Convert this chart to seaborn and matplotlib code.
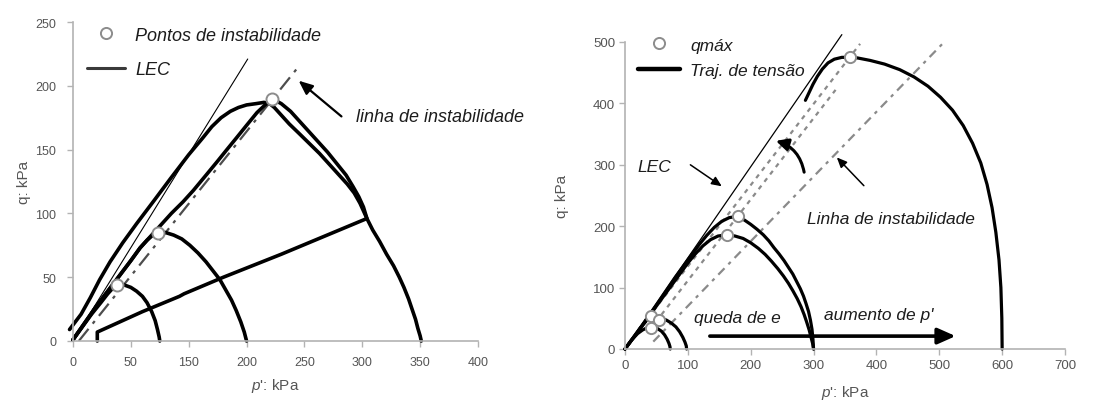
import matplotlib
matplotlib.use("Agg")
import matplotlib.pyplot as plt
import seaborn as sns
from matplotlib.lines import Line2D

# ---------------- left panel: q-p' stress paths (kPa) ----------------
small_a_p = [0, 8, 16, 24, 30, 34, 38, 44, 50, 55, 60, 64, 68, 71, 73, 74.5, 75]
small_a_q = [1, 11, 21, 30, 37, 41, 44, 44, 42, 39, 35, 30, 23, 16, 9, 3, 0]

medium_a_p = [0, 10, 20, 30, 40, 50, 58, 64, 69, 73.5, 80, 87, 94, 101, 108,
              115, 121, 127, 132, 137, 141, 145, 148, 150]
medium_a_q = [1, 14, 27, 39, 51, 63, 73, 79, 83, 85, 85, 83, 80, 75, 69,
              62, 55, 48, 40, 32, 24, 15, 7, 0]

large1_a_p = [0, 10, 20, 30, 40, 50, 58, 64, 75, 85, 95, 104, 115, 125, 133,
              142, 150, 159, 166, 172, 180, 188, 196, 204, 212, 220, 228, 236,
              242, 247, 251, 254, 259, 265, 271, 277, 282, 286, 290, 293, 296,
              298, 300, 301]
large1_a_q = [1, 14, 27, 39, 51, 63, 73, 79, 90, 100, 109, 118, 130, 141, 150,
              160, 169, 179, 185, 190, 186, 180, 172, 164, 156, 148, 139, 130,
              121, 113, 105, 96, 87, 78, 68, 59, 50, 42, 33, 25, 17,
              10, 4, 0]

large2_a_p = [21, 21, 60, 92, 96, 130, 180, 254, 252, 248, 243, 237, 230, 222,
              213, 204, 195, 187, 180, 174, 170, 165, 158, 150, 143, 136, 128,
              120, 112, 100, 84, 70, 55, 43, 32, 23, 15, 7, -3]
large2_a_q = [0, 7, 23, 35, 37, 50, 68, 96, 100, 108, 116, 123, 130, 138,
              147, 155, 163, 170, 177, 183, 186, 187, 186, 185, 183, 180, 175,
              168, 159, 146, 127, 110, 92, 77, 62, 48, 34, 21, 9]

peaks_a_p = [38, 73.5, 172]
peaks_a_q = [44, 85, 190]

lec_a_p = [0, 151]
lec_a_q = [0, 221]

inst_a_p = [5, 194]
inst_a_q = [0, 214]

xticks_a = [0, 50, 100, 150, 200, 250, 300, 350]
xticklabels_a = ["0", "50", "150", "200", "250", "300", "350", "400"]
yticks_a = [0, 50, 100, 150, 200, 250]

# ---------------- right panel ----------------
small1_b_p = [0, 10, 20, 28, 34, 40, 46, 52, 58, 63, 67, 70, 71.5, 72]
small1_b_q = [0, 14, 25, 31, 34, 35, 35, 33, 29, 23, 16, 9, 4, 0]

small2_b_p = [0, 12, 24, 34, 42, 50, 58, 66, 74, 81, 87, 92, 95.5, 97.5, 98]
small2_b_q = [0, 17, 34, 46, 52, 52, 50, 47, 42, 36, 28, 19, 11, 5, 0]

med1_b_p = [0, 20, 50, 80, 105, 118, 130, 142, 154, 166, 179, 190, 200, 210,
            220, 229, 237, 245, 253, 260, 267, 273, 279, 284, 288, 292, 295,
            297.5, 299, 300]
med1_b_q = [0, 28, 72, 117, 152, 170, 185, 198, 208, 214, 216, 210, 203, 195,
            186, 176, 165, 155, 144, 133, 122, 110, 98, 86, 74, 61, 47,
            32, 16, 0]

med2_b_p = [0, 20, 50, 80, 100, 112, 124, 136, 148, 162, 175, 188, 200, 212,
            223, 233, 243, 252, 260, 267, 274, 280, 285, 289, 293, 296,
            298.5, 300]
med2_b_q = [0, 27, 70, 112, 140, 155, 168, 178, 184, 186, 184, 180, 173, 164,
            154, 143, 131, 119, 107, 95, 82, 69, 56, 44, 31, 19, 9, 0]

big_b_p = [600, 599.5, 598, 595, 590, 584, 576, 566, 553, 538, 521, 502, 482,
           460, 437, 413, 390, 370, 358, 345, 333, 323, 314, 306, 299, 293, 287]
big_b_q = [0, 50, 100, 145, 190, 230, 268, 303, 335, 364, 389, 410, 428,
           443, 455, 464, 470, 474, 475, 475, 472, 466, 456, 444, 431, 418, 405]

peaks_b_p = [42, 54, 42, 162, 179, 358]
peaks_b_q = [54, 48, 35, 186, 216, 475]

lec_b_p = [0, 345]
lec_b_q = [0, 512]

inst1_b_p = [36, 374]
inst1_b_q = [50, 497]
inst2_b_p = [49, 335]
inst2_b_q = [44, 422]
inst3_b_p = [45, 505]
inst3_b_q = [12, 497]

xticks_b = [0, 100, 200, 300, 400, 500, 600, 700]
yticks_b = [0, 100, 200, 300, 400, 500]

# ---------------- style ----------------
sns.set_theme(style="ticks")
plt.rcParams["font.family"] = ["Liberation Sans", "DejaVu Sans"]
plt.rcParams["mathtext.fontset"] = "custom"
plt.rcParams["mathtext.it"] = "Liberation Sans:italic"
plt.rcParams["mathtext.rm"] = "Liberation Sans"

AXIS_GRAY = "#b3b3b3"
LABEL_GRAY = "#555555"
INK = "#1c1c1c"

fig = plt.figure(figsize=(11.15, 4.06), dpi=100)
ax_a = fig.add_axes([73 / 1115, 1 - 342 / 406, 405 / 1115, 319 / 406])
ax_b = fig.add_axes([625 / 1115, 1 - 350 / 406, 440 / 1115, 307 / 406])


def style_axes(ax, fs, xpad, ypad):
    sns.despine(ax=ax)
    for side in ("left", "bottom"):
        ax.spines[side].set_color(AXIS_GRAY)
        ax.spines[side].set_linewidth(1.2)
    ax.tick_params(axis="both", direction="out", length=4, width=1,
                   color=AXIS_GRAY, labelcolor=LABEL_GRAY, labelsize=fs)
    ax.tick_params(axis="x", pad=xpad)
    ax.tick_params(axis="y", pad=ypad)
    ax.set_facecolor("white")


def path(ax, p, q, lw):
    sns.lineplot(x=p, y=q, sort=False, estimator=None, color="black",
                 linewidth=lw, ax=ax, clip_on=False, solid_joinstyle="round",
                 solid_capstyle="round")


# ---- left panel ----
sns.lineplot(x=lec_a_p, y=lec_a_q, color="black", linewidth=0.8, ax=ax_a)
sns.lineplot(x=inst_a_p, y=inst_a_q, color="#4d4d4d", linewidth=1.6, ax=ax_a,
             linestyle=(0, (7, 3, 1.5, 3)))
for p, q in [(small_a_p, small_a_q), (medium_a_p, medium_a_q),
             (large1_a_p, large1_a_q), (large2_a_p, large2_a_q)]:
    path(ax_a, p, q, 2.6)
sns.scatterplot(x=peaks_a_p, y=peaks_a_q, marker="o", s=75, color="white",
                edgecolor="#8c8c8c", linewidth=1.4, zorder=5, ax=ax_a)

ax_a.set_xlim(0, 350)
ax_a.set_ylim(0, 250)
ax_a.set_xticks(xticks_a)
ax_a.set_xticklabels(xticklabels_a)
ax_a.set_yticks(yticks_a)
style_axes(ax_a, 9, xpad=6.5, ypad=8)
ax_a.set_xlabel(r"$\mathit{p}$': kPa", fontsize=11, color=LABEL_GRAY, labelpad=6)
ax_a.set_ylabel("q: kPa", fontsize=11, color=LABEL_GRAY, labelpad=3)

leg_font = dict(family="Liberation Sans", style="italic", size=13)
ax_a.legend(handles=[Line2D([], [], ls="", marker="o", ms=8, mfc="white",
                            mec="#8c8c8c", mew=1.4),
                     Line2D([], [], color="#3a3a3a", lw=2.2)],
            labels=["Pontos de instabilidade", "LEC"], prop=leg_font,
            loc="upper left", bbox_to_anchor=(0.035, 0.985), frameon=False,
            handlelength=2.1, handletextpad=0.55, labelspacing=0.95,
            borderpad=0, borderaxespad=0, labelcolor=INK)

ax_a.annotate("", xy=(195, 204), xytext=(232, 176),
              arrowprops=dict(arrowstyle="-|>,head_length=0.7,head_width=0.3",
                              color="black", lw=1.6, shrinkA=0, shrinkB=0))
ax_a.text(245, 176, "linha de instabilidade", fontsize=13, fontstyle="italic",
          color=INK, va="center", ha="left", clip_on=False)

# ---- right panel ----
sns.lineplot(x=lec_b_p, y=lec_b_q, color="black", linewidth=0.9, ax=ax_b,
             clip_on=False)
for p, q in [(inst1_b_p, inst1_b_q), (inst2_b_p, inst2_b_q)]:
    sns.lineplot(x=p, y=q, color="#8a8a8a", linewidth=1.6, ax=ax_b,
                 linestyle=(0, (2, 2.2)))
sns.lineplot(x=inst3_b_p, y=inst3_b_q, color="#8a8a8a", linewidth=1.6, ax=ax_b,
             linestyle=(0, (4, 2.5, 1.5, 2.5)))
for p, q in [(small1_b_p, small1_b_q), (small2_b_p, small2_b_q),
             (med1_b_p, med1_b_q), (med2_b_p, med2_b_q), (big_b_p, big_b_q)]:
    path(ax_b, p, q, 2.3)
sns.scatterplot(x=peaks_b_p, y=peaks_b_q, marker="o", s=65, color="white",
                edgecolor="#8c8c8c", linewidth=1.4, zorder=5, ax=ax_b)

ax_b.set_xlim(0, 700)
ax_b.set_ylim(0, 500)
ax_b.set_xticks(xticks_b)
ax_b.set_yticks(yticks_b)
style_axes(ax_b, 9.5, xpad=3, ypad=3)
ax_b.set_xlabel(r"$\mathit{p}$': kPa", fontsize=11, color=LABEL_GRAY, labelpad=9)
ax_b.set_ylabel("q: kPa", fontsize=11, color=LABEL_GRAY, labelpad=17)

leg_font_b = dict(family="Liberation Sans", style="italic", size=12.5)
ax_b.legend(handles=[Line2D([], [], ls="", marker="o", ms=8, mfc="white",
                            mec="#8c8c8c", mew=1.4),
                     Line2D([], [], color="black", lw=3.2)],
            labels=["qmáx", "Traj. de tensão"], prop=leg_font_b,
            loc="upper left", bbox_to_anchor=(0.03, 1.015), frameon=False,
            handlelength=2.4, handletextpad=0.6, labelspacing=0.6,
            borderpad=0, borderaxespad=0, labelcolor=INK)

txt = dict(fontsize=12.5, fontstyle="italic", color=INK, va="center", ha="left")
ax_b.text(20, 297, "LEC", **txt)
ax_b.text(290, 213, "Linha de instabilidade", **txt)
ax_b.text(110, 52, "queda de e", **txt)
ax_b.text(316, 56, "aumento de p'", **txt)

thin_arrow = dict(arrowstyle="-|>,head_length=0.5,head_width=0.22", color="black",
                  lw=1.1, shrinkA=0, shrinkB=0)
ax_b.annotate("", xy=(154, 265), xytext=(104, 300), arrowprops=thin_arrow)
ax_b.annotate("", xy=(337, 312), xytext=(380, 266), arrowprops=thin_arrow)
ax_b.annotate("", xy=(240, 339), xytext=(285, 288),
              arrowprops=dict(arrowstyle="-|>,head_length=0.6,head_width=0.3",
                              color="black", lw=2.2, shrinkA=0, shrinkB=0,
                              connectionstyle="arc3,rad=0.3"))
ax_b.annotate("", xy=(526, 21), xytext=(135, 21),
              arrowprops=dict(arrowstyle="-|>,head_length=0.9,head_width=0.4",
                              color="black", lw=2.6, shrinkA=0, shrinkB=0))

fig.savefig("out.png", dpi=100, facecolor="white")
